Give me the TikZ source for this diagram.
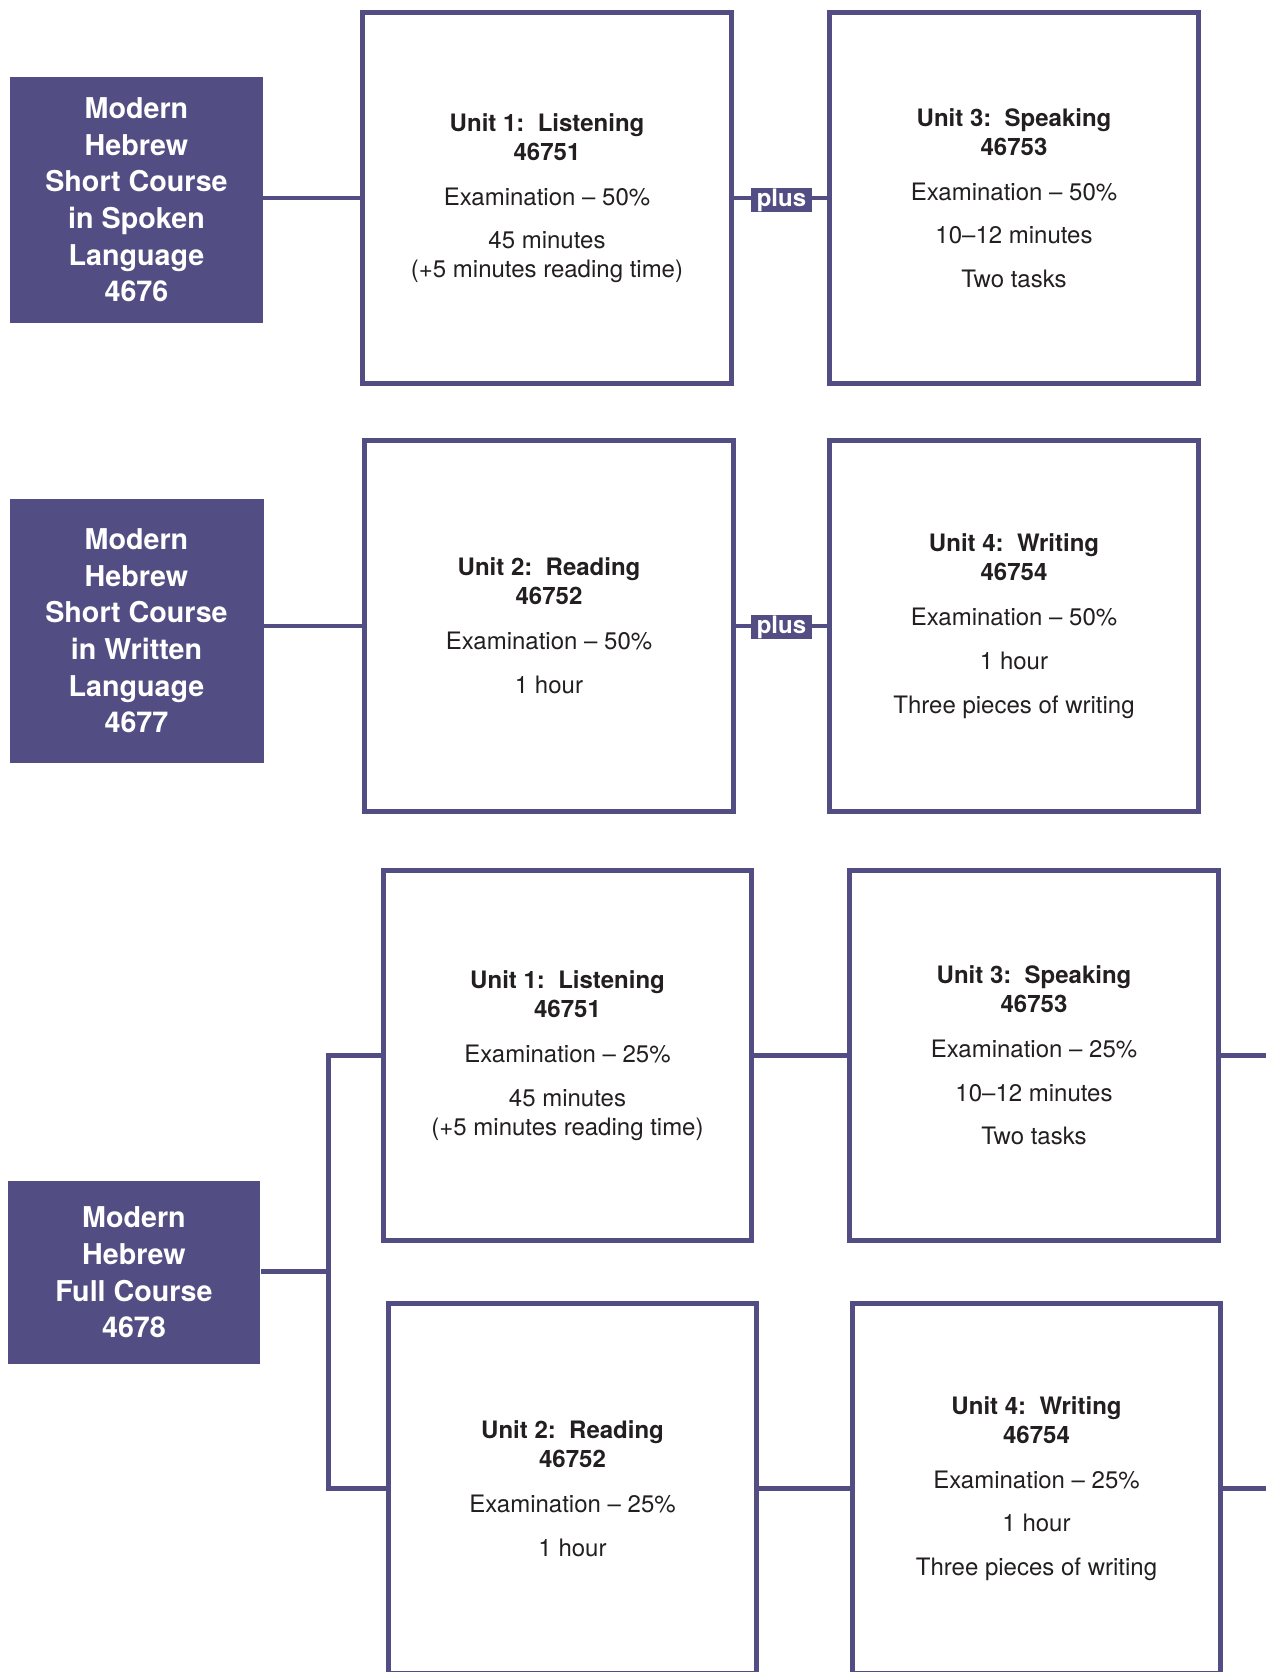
\documentclass[tikz,border=0pt]{standalone}
\usepackage{fontspec}
\setmainfont{TeX Gyre Heros}
\definecolor{hb}{HTML}{524E84}
\definecolor{tx}{HTML}{231F20}
\tikzset{
  course/.style={fill=hb, text=white, inner sep=0pt, align=center,
    font=\fontsize{21.5}{27.5}\selectfont\bfseries},
  unitbox/.style={draw=hb, line width=3.6pt, fill=white, text=tx, align=center,
    inner sep=0pt, minimum width=276.2pt, minimum height=277.8pt,
    font=\fontsize{18}{21.75}\selectfont},
  conn/.style={draw=hb, line width=3.2pt},
  plusbox/.style={fill=hb, text=white, inner sep=0pt, minimum width=45.75pt,
    minimum height=17.5pt, font=\fontsize{18}{18}\selectfont\bfseries}
}
\begin{document}
\begin{tikzpicture}[x=0.75pt, y=-0.75pt]
\useasboundingbox (0,0) rectangle (1266,1672);
\clip (0,0) rectangle (1266,1672);

% ---------- Row 1 ----------
\node[course, minimum width=189.75pt, minimum height=184.5pt] (A1) at (136.5,200)
  {Modern\\Hebrew\\Short Course\\in Spoken\\Language\\4676};
\node[unitbox] (U1) at (547,198)
  {\textbf{Unit 1:\ \ Listening}\\\textbf{46751}\\[12pt]Examination – 50\%\\[11pt]45 minutes\\(+5 minutes reading time)};
\node[unitbox] (U3) at (1014,198)
  {\textbf{Unit 3:\ \ Speaking}\\\textbf{46753}\\[12pt]Examination – 50\%\\[11pt]10–12 minutes\\[11pt]Two tasks};
\draw[conn] (A1.east |- U1.west) -- (U1.west);
\draw[conn] (U1.east) -- (U3.west);
\node[plusbox] (P1) at (781.5,200) {plus};

% ---------- Row 2 ----------
\node[course, minimum width=190.5pt, minimum height=198pt] (A2) at (136.5,631)
  {Modern\\Hebrew\\Short Course\\in Written\\Language\\4677};
\node[unitbox] (U2) at (549,626)
  {\textbf{Unit 2:\ \ Reading}\\\textbf{46752}\\[12pt]Examination – 50\%\\[11pt]1 hour};
\node[unitbox] (U4) at (1014,626)
  {\textbf{Unit 4:\ \ Writing}\\\textbf{46754}\\[12pt]Examination – 50\%\\[11pt]1 hour\\[11pt]Three pieces of writing};
\draw[conn] (A2.east |- U2.west) -- (U2.west);
\draw[conn] (U2.east) -- (U4.west);
\node[plusbox] (P2) at (781.5,627) {plus};

% ---------- Row 3 ----------
\node[course, minimum width=189.4pt, minimum height=137.25pt] (A3) at (134,1272.5)
  {Modern\\Hebrew\\Full Course\\4678};
\node[unitbox] (U1b) at (567.5,1055.5)
  {\textbf{Unit 1:\ \ Listening}\\\textbf{46751}\\[12pt]Examination – 25\%\\[11pt]45 minutes\\(+5 minutes reading time)};
\node[unitbox] (U3b) at (1034,1055.5)
  {\textbf{Unit 3:\ \ Speaking}\\\textbf{46753}\\[12pt]Examination – 25\%\\[11pt]10–12 minutes\\[11pt]Two tasks};
\node[unitbox] (U2b) at (572.5,1488.5)
  {\textbf{Unit 2:\ \ Reading}\\\textbf{46752}\\[12pt]Examination – 25\%\\[11pt]1 hour};
\node[unitbox] (U4b) at (1036.5,1488.5)
  {\textbf{Unit 4:\ \ Writing}\\\textbf{46754}\\[12pt]Examination – 25\%\\[11pt]1 hour\\[11pt]Three pieces of writing};

\coordinate (J) at (328.5,1271.5);
\coordinate (R1) at (1280,1055.5);
\coordinate (R2) at (1280,1488.5);
\draw[conn] (A3.east |- J) -- (J);
\draw[conn] (U1b.west) -| (J) |- (U2b.west);
\draw[conn] (U1b.east) -- (U3b.west);
\draw[conn] (U2b.east) -- (U4b.west);
\draw[conn] (U3b.east) -- (R1);
\draw[conn] (U4b.east) -- (R2);
\end{tikzpicture}
\end{document}
